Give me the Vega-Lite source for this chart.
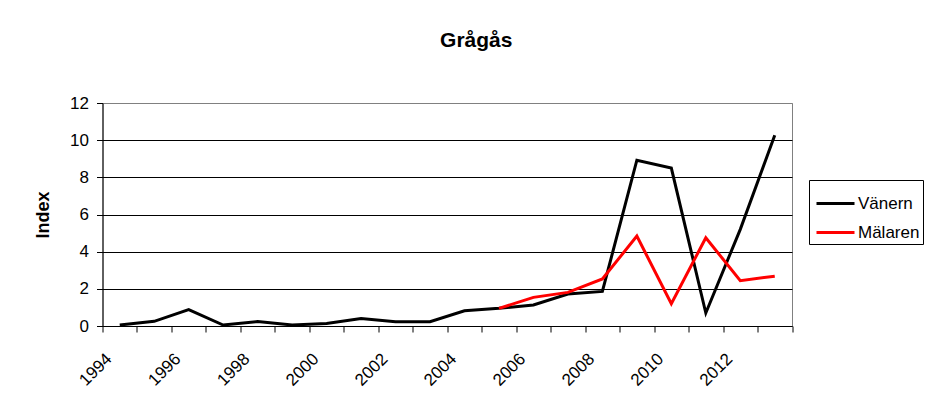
{
  "$schema": "https://vega.github.io/schema/vega-lite/v6.json",
  "width": 689.5,
  "height": 223,
  "autosize": {"type": "none"},
  "padding": {"left": 102.5, "top": 103, "right": 137, "bottom": 79},
  "background": "white",
  "config": {
    "font": "Liberation Sans",
    "view": {"stroke": "#808080", "strokeWidth": 1}
  },
  "title": {
    "text": "Grågås",
    "fontSize": 21,
    "fontWeight": "bold",
    "font": "Liberation Sans",
    "color": "black",
    "anchor": "middle",
    "frame": "group",
    "dx": 29,
    "baseline": "alphabetic",
    "offset": 26
  },
  "data": {
    "values": [
      {"year": 1994, "series": "Vänern", "value": 0.05},
      {"year": 1995, "series": "Vänern", "value": 0.25},
      {"year": 1996, "series": "Vänern", "value": 0.88},
      {"year": 1997, "series": "Vänern", "value": 0.05},
      {"year": 1998, "series": "Vänern", "value": 0.24},
      {"year": 1999, "series": "Vänern", "value": 0.05},
      {"year": 2000, "series": "Vänern", "value": 0.13},
      {"year": 2001, "series": "Vänern", "value": 0.4},
      {"year": 2002, "series": "Vänern", "value": 0.23},
      {"year": 2003, "series": "Vänern", "value": 0.23},
      {"year": 2004, "series": "Vänern", "value": 0.82},
      {"year": 2005, "series": "Vänern", "value": 0.95},
      {"year": 2006, "series": "Vänern", "value": 1.13},
      {"year": 2007, "series": "Vänern", "value": 1.72},
      {"year": 2008, "series": "Vänern", "value": 1.86},
      {"year": 2009, "series": "Vänern", "value": 8.92},
      {"year": 2010, "series": "Vänern", "value": 8.5},
      {"year": 2011, "series": "Vänern", "value": 0.7},
      {"year": 2012, "series": "Vänern", "value": 5.2},
      {"year": 2013, "series": "Vänern", "value": 10.27},
      {"year": 2005, "series": "Mälaren", "value": 0.95},
      {"year": 2006, "series": "Mälaren", "value": 1.54},
      {"year": 2007, "series": "Mälaren", "value": 1.81},
      {"year": 2008, "series": "Mälaren", "value": 2.53},
      {"year": 2009, "series": "Mälaren", "value": 4.84},
      {"year": 2010, "series": "Mälaren", "value": 1.2},
      {"year": 2011, "series": "Mälaren", "value": 4.75},
      {"year": 2012, "series": "Mälaren", "value": 2.44},
      {"year": 2013, "series": "Mälaren", "value": 2.68}
    ]
  },
  "mark": {"type": "line", "strokeWidth": 3, "strokeJoin": "miter"},
  "encoding": {
    "x": {
      "field": "year",
      "type": "ordinal",
      "bandPosition": 0.5,
      "scale": {"type": "band", "paddingInner": 0, "paddingOuter": 0},
      "axis": {
        "title": null,
        "tickBand": "extent",
        "grid": false,
        "labelAngle": -45,
        "labelAlign": "right",
        "labelBaseline": "middle",
        "labelPadding": 24,
        "labelOffset": -11,
        "labelFontSize": 17,
        "labelColor": "black",
        "labelExpr": "datum.value % 2 == 0 ? datum.label : ''",
        "tickSize": 6,
        "tickColor": "black",
        "domainColor": "black"
      }
    },
    "y": {
      "field": "value",
      "type": "quantitative",
      "scale": {"domain": [0, 12], "nice": false},
      "axis": {
        "title": "Index",
        "titleFontSize": 18,
        "titleFontWeight": "bold",
        "titleColor": "black",
        "titleAngle": -90,
        "titleX": -58.8,
        "titleY": 111.5,
        "titleAlign": "center",
        "titleBaseline": "middle",
        "values": [0, 2, 4, 6, 8, 10, 12],
        "labelFontSize": 17,
        "labelColor": "black",
        "labelPadding": 8,
        "tickSize": 6,
        "tickColor": "black",
        "domainColor": "black",
        "grid": true,
        "gridColor": {"condition": {"test": "datum.value == 12", "value": "#808080"}, "value": "black"},
        "gridOpacity": 1
      }
    },
    "color": {
      "field": "series",
      "type": "nominal",
      "scale": {"domain": ["Vänern", "Mälaren"], "range": ["#000000", "#FF0000"]},
      "legend": {
        "title": null,
        "orient": "none",
        "legendX": 706.5,
        "legendY": 77,
        "symbolType": "stroke",
        "symbolSize": 1444,
        "symbolStrokeWidth": 3,
        "symbolOffset": 3,
        "labelFontSize": 17,
        "labelColor": "black",
        "labelLimit": 300,
        "labelOffset": 2,
        "strokeColor": "black",
        "fillColor": "white",
        "padding": 3,
        "rowPadding": 0
      }
    }
  }
}
